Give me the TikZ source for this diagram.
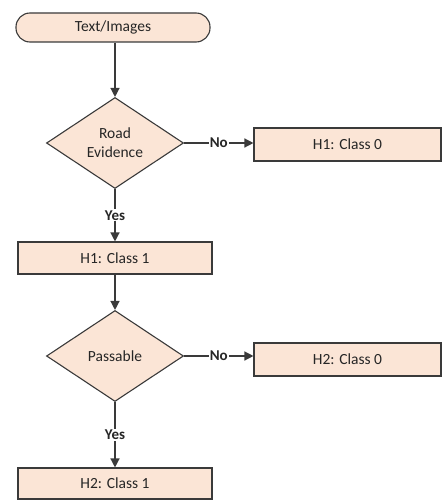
\documentclass[tikz,border=0pt]{standalone}
\usepackage{fontspec}
\setmainfont{Carlito}
\usetikzlibrary{shapes, arrows.meta}
\definecolor{peach}{HTML}{FBE5D6}
\definecolor{linegray}{HTML}{3A3A3A}

\begin{document}
\begin{tikzpicture}[x=1pt, y=-1pt, font=\fontsize{15.5}{19}\selectfont,
    every node/.style={text=black!85},
    box/.style={rectangle, draw=linegray, fill=peach, line width=1.1pt, minimum width=194pt, minimum height=32pt},
    choice/.style={diamond, draw=linegray, fill=peach, line width=1.1pt, inner sep=0pt, minimum width=137pt, minimum height=91pt, aspect=1.5, align=center},
    flow/.style={draw=linegray, line width=1.3pt, -{Triangle[length=9pt, width=9pt]}},
    tag/.style={fill=white, inner sep=1pt, font=\fontsize{15}{18}\selectfont\bfseries}]
    \useasboundingbox (0,0) rectangle (443,500);
    \node[box, rounded corners=14pt, minimum height=29pt] (start) at (113,27.5) {Text/Images};
    \node[choice] (road) at (115,143) {Road\\Evidence};
    \node[box, minimum width=187pt, minimum height=33pt] (h1no) at (347.5,144.5) {H1: Class 0};
    \node[box] (h1yes) at (115,258) {H1: Class 1};
    \node[choice] (pass) at (115,356) {Passable};
    \node[box, minimum width=187pt, minimum height=33pt] (h2no) at (347.5,359.5) {H2: Class 0};
    \node[box, minimum height=31pt] (h2yes) at (115,483.5) {H2: Class 1};
    % connectors
    \draw[flow] (start.south -| road.north) -- (road.north);
    \draw[flow] (road.east) -- node[tag] {No} (h1no.west |- road.east);
    \draw[flow] (road.south) -- node[tag, pos=0.5] {Yes} (h1yes.north);
    \draw[flow] (h1yes.south) -- (pass.north);
    \draw[flow] (pass.east) -- node[tag] {No} (h2no.west |- pass.east);
    \draw[flow] (pass.south) -- node[tag, pos=0.5] {Yes} (h2yes.north);
\end{tikzpicture}
\end{document}
